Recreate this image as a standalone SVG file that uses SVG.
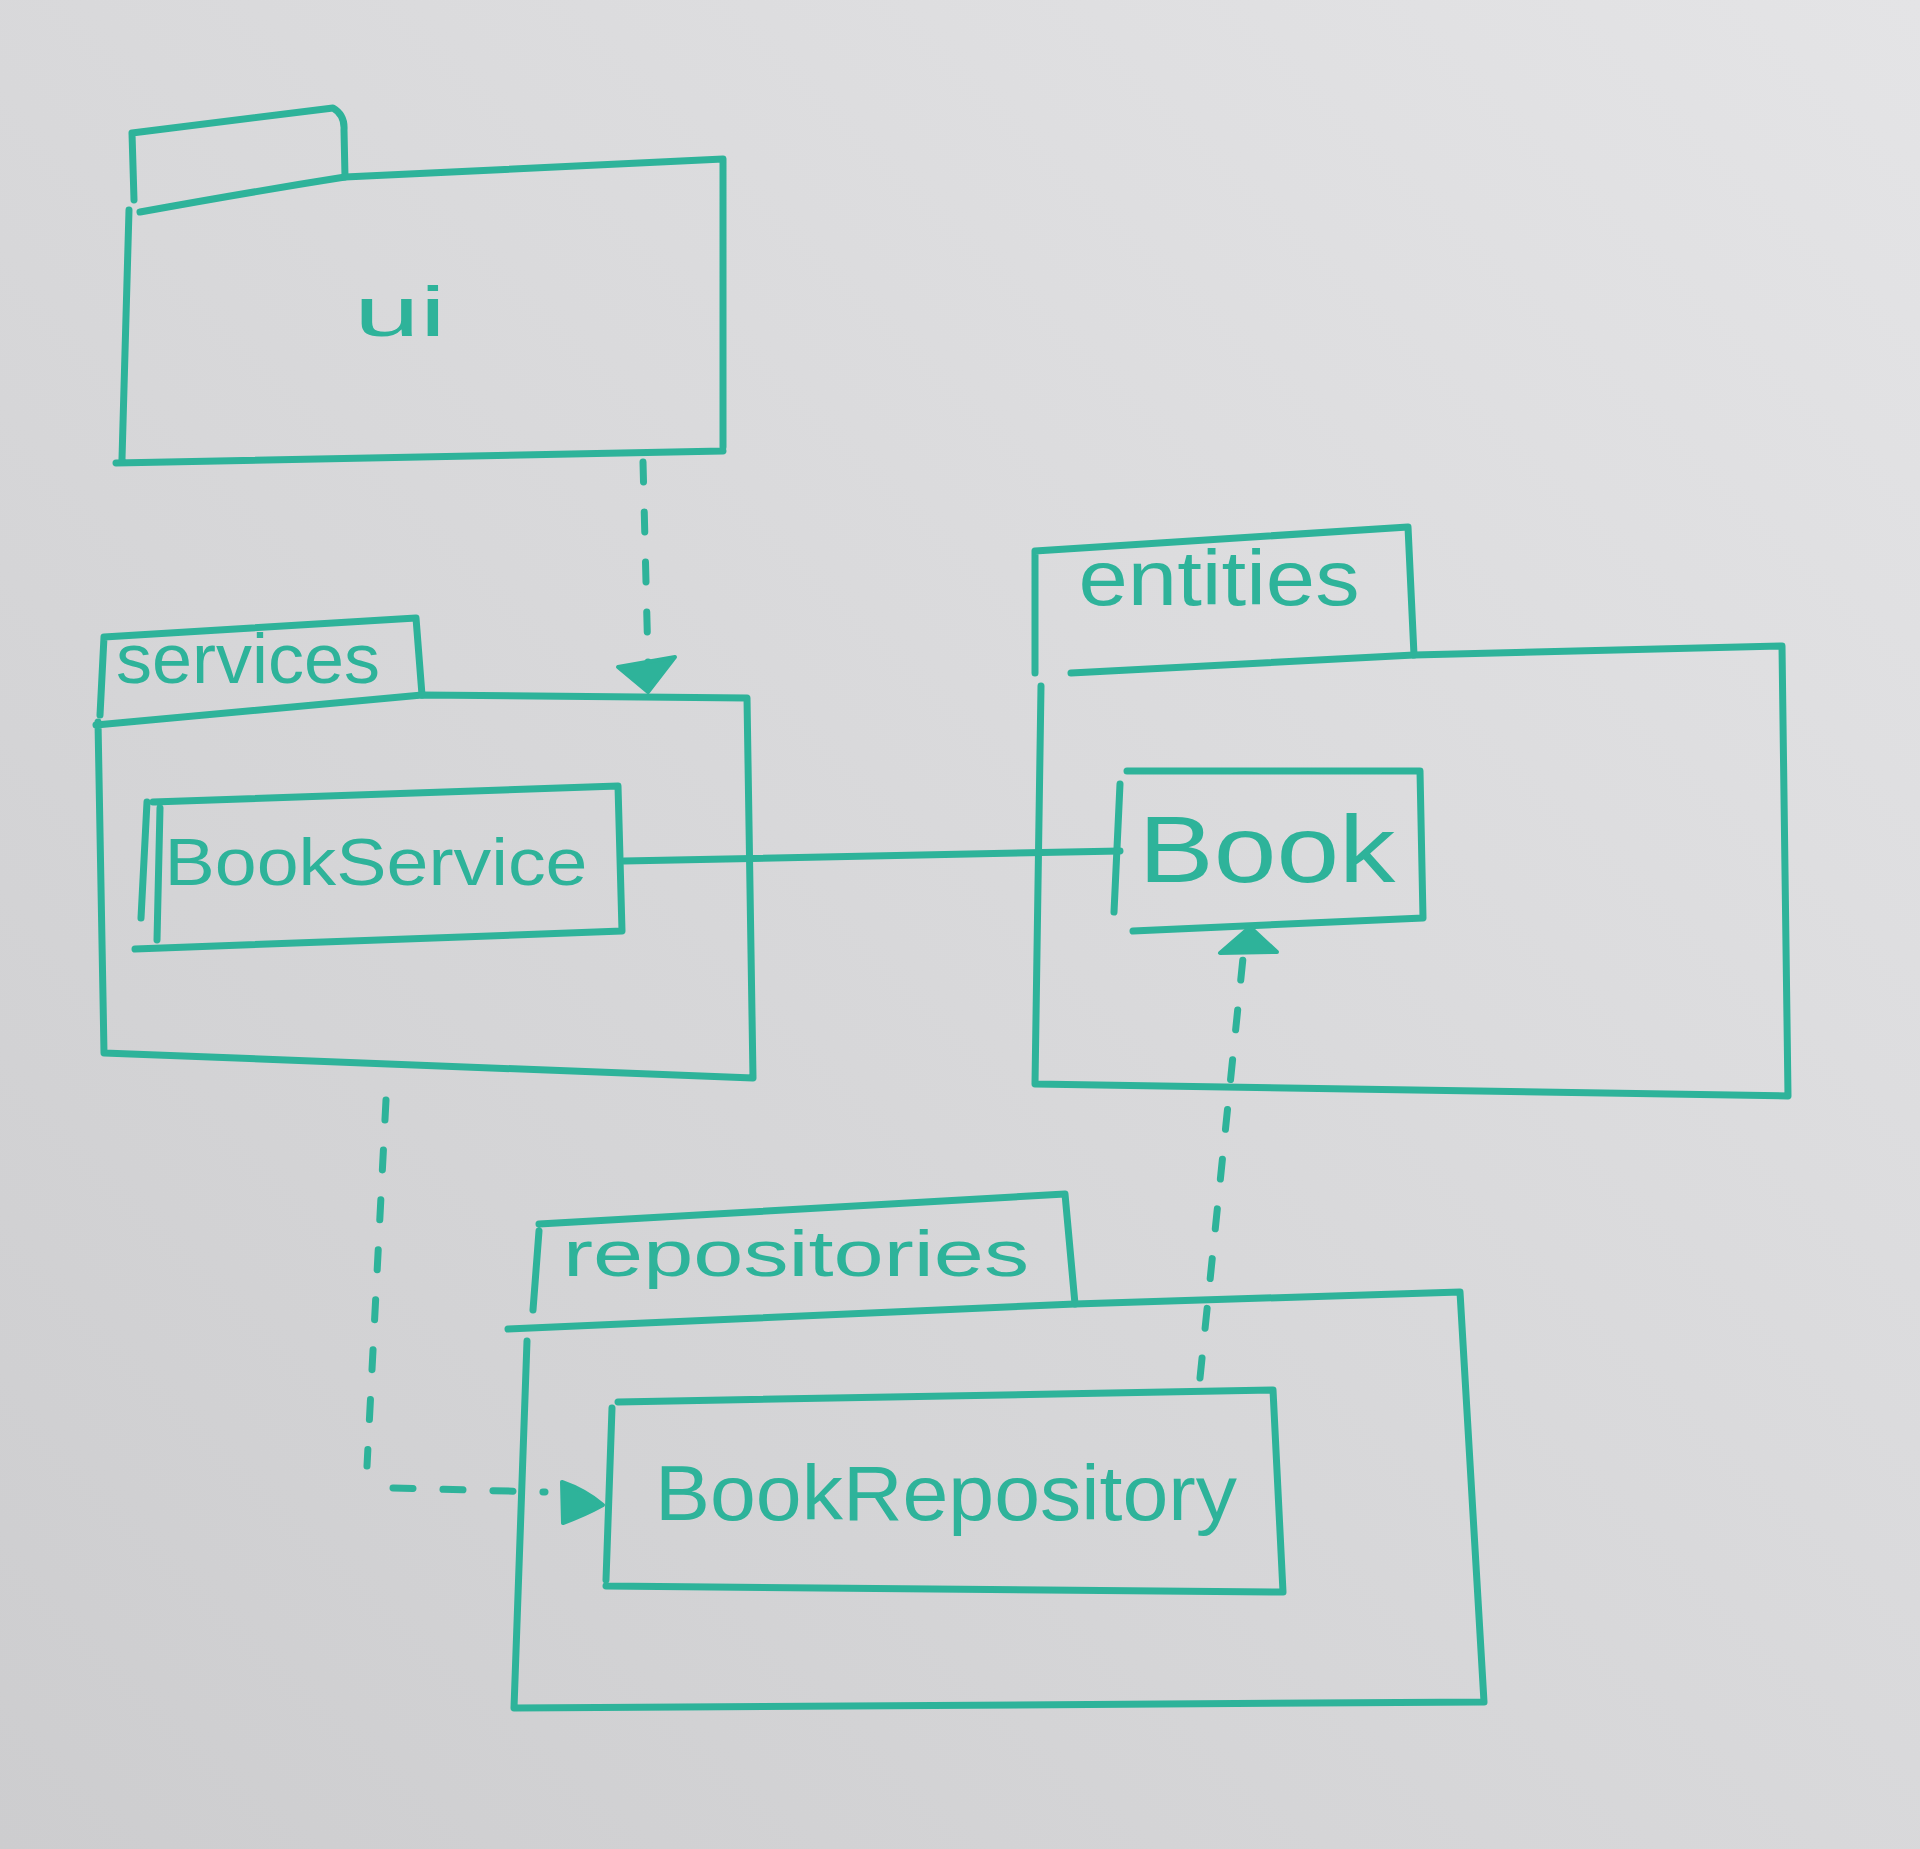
<svg xmlns="http://www.w3.org/2000/svg" width="1920" height="1849" viewBox="0 0 1920 1849">
<defs>
<linearGradient id="bg" x1="1" y1="0" x2="0" y2="1">
<stop offset="0" stop-color="#e4e4e6"/>
<stop offset="1" stop-color="#cdcdcf"/>
</linearGradient>
<style>
.ln{fill:none;stroke:#2eb39a;stroke-width:7;stroke-linecap:round;stroke-linejoin:round}
.ds{fill:none;stroke:#2eb39a;stroke-width:7;stroke-linecap:round;stroke-dasharray:20 30}
.hd{fill:#2eb39a;stroke:#2eb39a;stroke-width:4;stroke-linejoin:round}
.tx{fill:#2eb39a;font-family:"Liberation Sans","DejaVu Sans",sans-serif;text-anchor:middle}
</style>
</defs>
<rect width="1920" height="1849" fill="url(#bg)"/>

<g id="ui">
<path class="ln" d="M132 133 L333 108 Q345 115 344 130 L345 177 Q250 192 140 212 M132 133 L134 200"/>
<path class="ln" d="M345 177 L723 159 L723 447 M129 210 L122 459 M116 463 L723 451"/>
<text class="tx" x="400" y="336" font-size="70" textLength="92" lengthAdjust="spacingAndGlyphs">ui</text>
</g>

<g id="services">
<path class="ln" d="M104 637 L416 618 L422 695 M104 637 L100 715"/>
<path class="ln" d="M96 725 L422 695 L747 698 L753 1078 L104 1053 L98 722"/>
<text class="tx" x="248" y="683" font-size="70" textLength="264" lengthAdjust="spacingAndGlyphs">services</text>
</g>

<g id="BookService">
<path class="ln" d="M153 802 L618 786 L622 931 L135 949 M147 802 L141 918 M160 808 L157 940"/>
<text class="tx" x="376" y="885" font-size="66" textLength="423" lengthAdjust="spacingAndGlyphs">BookService</text>
</g>

<g id="entities">
<path class="ln" d="M1035 551 L1408 527 L1414 655 M1035 551 L1035 673"/>
<path class="ln" d="M1071 673 L1414 655 L1782 646 L1788 1096 L1035 1084 L1041 686"/>
<text class="tx" x="1219" y="605" font-size="78" textLength="281" lengthAdjust="spacingAndGlyphs">entities</text>
</g>

<g id="Book">
<path class="ln" d="M1127 771 L1420 771 L1423 918 L1133 931 M1120 784 L1114 912"/>
<text class="tx" x="1267" y="882" font-size="95" textLength="257" lengthAdjust="spacingAndGlyphs">Book</text>
</g>

<g id="repositories">
<path class="ln" d="M539 1224 L1065 1194 L1075 1304 M539 1231 L533 1310"/>
<path class="ln" d="M508 1329 L1075 1304 L1460 1292 L1484 1702 L514 1708 L527 1341"/>
<text class="tx" x="796" y="1276" font-size="64" textLength="466" lengthAdjust="spacingAndGlyphs">repositories</text>
</g>

<g id="BookRepository">
<path class="ln" d="M618 1402 L1273 1390 L1283 1592 L606 1586 M612 1408 L606 1580"/>
<text class="tx" x="946" y="1520" font-size="78" textLength="582" lengthAdjust="spacingAndGlyphs">BookRepository</text>
</g>

<g id="connectors">
<path class="ds" d="M643 462 L648 662"/>
<path class="hd" d="M618 667 L675 657 L648 692 Z"/>
<path class="ln" d="M624 861 L1120 851"/>
<path class="ds" d="M1200 1378 L1243 958"/>
<path class="hd" d="M1220 953 L1277 952 L1250 927 Z"/>
<path class="ds" d="M386 1100 L367 1466"/>
<path class="ds" d="M393 1488 L545 1492" stroke-dasharray="32 30"/>
<path class="hd" d="M562 1482 Q585 1490 603 1505 Q585 1515 563 1523 Z"/>
</g>
</svg>
